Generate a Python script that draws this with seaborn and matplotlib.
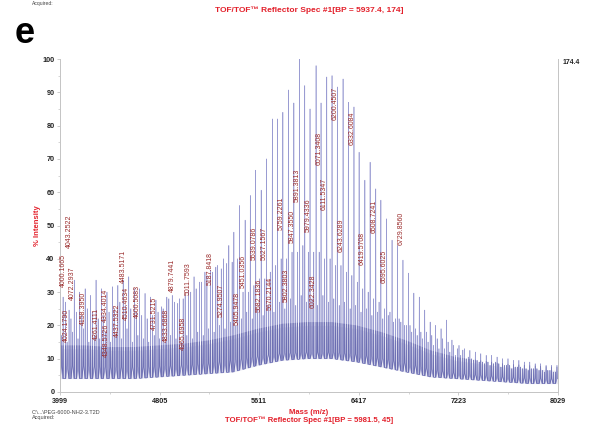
import numpy as np
import pandas as pd
import matplotlib
matplotlib.use("Agg")
import matplotlib.pyplot as plt
import seaborn as sns

# ---------------------------------------------------------------- data
# main PEG series (m/z, % intensity)
a_mass = [4000.17, 4043.25, 4087.7, 4131.7, 4175.8, 4219.8, 4261.41, 4307.9, 4348.57, 4396.0,
          4437.53, 4483.52, 4528.2, 4572.2, 4616.3, 4660.3, 4704.4, 4748.4, 4792.5, 4833.69,
          4879.74, 4924.6, 4965.70, 5011.76, 5056.8, 5100.8, 5144.9, 5187.84, 5233.0, 5274.95,
          5321.1, 5365.1, 5405.95, 5451.04, 5497.3, 5539.08, 5582.18, 5627.16, 5670.21, 5717.5,
          5759.23, 5802.38, 5847.36, 5891.38, 5937.4, 5979.43, 6022.34, 6071.34, 6111.53, 6157.6,
          6200.45, 6243.63, 6289.8, 6332.61, 6377.9, 6419.57, 6466.0, 6508.72, 6554.1, 6595.60,
          6642.2, 6686.2, 6729.86, 6774.3, 6818.4, 6862.4, 6906.5, 6950.5, 6994.6, 7038.6,
          7082.7, 7126.7, 7170.8, 7214.8, 7258.9, 7302.9, 7347.0, 7391.0, 7435.1, 7479.1,
          7523.2, 7567.2, 7611.3, 7655.3, 7699.4, 7743.4, 7787.5, 7831.5, 7875.6, 7919.6,
          7963.7, 8007.7]
a_int = [30, 27, 22, 24, 23, 25, 24, 22, 23, 24,
         25, 27, 26, 25, 24, 23, 22, 23, 24, 25,
         28, 27, 28, 29, 30, 31, 33, 35, 36, 38,
         40, 44, 48, 56, 51.6, 59, 66.6, 60.6, 70, 82,
         82, 84, 90.7, 86.8, 100, 92, 85, 98, 86.8, 94.6,
         95, 91.6, 94, 87, 85.6, 72, 63.6, 69, 61, 57.6,
         52, 45.6, 44, 39.6, 35.7, 29.7, 28.5, 24.6, 21, 20,
         19, 21.6, 15.6, 13, 12.6, 10.5, 9.6, 9, 8.5, 8,
         9, 7.5, 8, 7, 7.5, 7, 6.5, 7, 6.5, 6,
         6.5, 6]

# second end-group series
b_mass = [4024.18, 4072.29, 4114.7, 4158.40, 4202.8, 4246.8, 4290.9, 4334.40, 4379.0, 4423.0,
          4467.1, 4510.46, 4555.2, 4600.51, 4643.3, 4687.3, 4731.52, 4775.4, 4819.5, 4863.5,
          4907.6, 4951.6, 4995.7, 5039.7, 5083.8, 5127.8, 5171.9, 5215.9, 5260.0, 5304.0,
          5348.1, 5392.1, 5436.2, 5480.2, 5524.3, 5568.3, 5612.4, 5656.4, 5700.5, 5744.5,
          5788.6, 5832.6, 5876.7, 5920.7, 5964.4, 6008.4, 6052.5, 6096.5, 6140.6, 6184.6,
          6228.7, 6272.7, 6316.8, 6360.8, 6404.9, 6448.9, 6493.0, 6537.0, 6581.1, 6625.1,
          6669.2, 6713.2, 6757.3, 6801.3, 6845.4, 6889.4, 6933.5, 6977.5, 7021.6, 7065.6,
          7109.7, 7153.7, 7197.8, 7241.8, 7285.9, 7329.9, 7374.0, 7418.0, 7462.1, 7506.1,
          7550.2, 7594.2, 7638.3, 7682.3, 7726.4, 7770.4, 7814.5, 7858.5, 7902.6, 7946.6,
          7990.7]
b_int = [28.5, 24.6, 33.6, 30, 31, 29, 33.6, 31, 30, 31.6,
         32, 33.6, 34.6, 31, 31, 29.6, 28.5, 27.6, 25.6, 28.5,
         29, 26.6, 28, 30.6, 34.6, 33, 36, 36.6, 37.5, 37,
         38.6, 39, 40, 30, 30, 32, 34, 34, 36, 38,
         40, 40, 42, 42, 44, 42, 42, 42, 40, 40,
         38, 38, 36, 35, 33, 31, 30, 28, 27, 25,
         24, 22, 21, 20, 18, 17, 16, 15, 14, 13,
         13, 12, 11, 11, 10, 10, 9.5, 9, 9, 8.5,
         8.5, 8, 8, 7.5, 7.5, 7, 7, 7, 6.5, 6.5,
         6]

# minor satellite peaks
c_mass = [4013.2, 4056.3, 4100.7, 4144.7, 4188.8, 4232.8, 4276.9, 4320.9, 4365.0, 4409.0,
          4453.1, 4497.1, 4541.2, 4585.2, 4629.3, 4673.3, 4717.4, 4761.4, 4805.5, 4849.5,
          4893.6, 4937.6, 4981.7, 5025.7, 5069.8, 5113.8, 5157.9, 5201.9, 5246.0, 5290.0,
          5334.1, 5378.1, 5422.2, 5466.2, 5510.3, 5554.3, 5598.4, 5642.4, 5686.5, 5730.5,
          5774.6, 5818.6, 5862.7, 5906.7, 5950.4, 5994.4, 6038.5, 6082.5, 6126.6, 6170.6,
          6214.7, 6258.7, 6302.8, 6346.8, 6390.9, 6434.9, 6479.0, 6523.0, 6567.1, 6611.1,
          6655.2, 6699.2, 6743.3, 6787.3, 6831.4, 6875.4, 6919.5, 6963.5, 7007.6, 7051.6,
          7095.7, 7139.7, 7183.8, 7227.8, 7271.9, 7315.9, 7360.0, 7404.0, 7448.1, 7492.1,
          7536.2, 7580.2, 7624.3, 7668.3, 7712.4, 7756.4, 7800.5, 7844.5, 7888.6, 7932.6,
          7976.7, 8020.7]
c_int = [17, 15, 18, 16, 19, 15, 17, 16, 18, 15,
         17, 16, 19, 15, 17, 16, 15, 17, 16, 15,
         17, 16, 15, 17, 16, 18, 17, 19, 18, 20,
         19, 21, 20, 22, 24, 22, 25, 23, 26, 24,
         27, 25, 28, 26, 29, 27, 28, 26, 29, 27,
         28, 26, 27, 25, 26, 24, 25, 23, 24, 22,
         23, 21, 22, 20, 20, 19, 18, 18, 17, 16,
         16, 15, 14, 14, 13, 12.5, 12, 11.5, 11, 11,
         10.5, 10, 10, 9.5, 9.5, 9, 9, 8.5, 8.5, 8,
         8, 8]

# chemical-noise floor (lower / upper edge of the dense band)
band_mass = [3999, 4200, 4400, 4600, 4800, 5000, 5200, 5400, 5600, 5800,
             6000, 6200, 6400, 6600, 6800, 7000, 7200, 7400, 7600, 7800, 8029]
band_low = [4, 4, 4, 4, 4.5, 5, 5.5, 6, 8, 9.5,
            10, 10, 9, 7.5, 6, 4.5, 4, 3.5, 3, 2.5, 2.5]
band_high = [13, 13, 12.5, 12.5, 13, 13.5, 14.5, 16, 18, 19.5,
             20, 20, 19, 17, 14.5, 11.5, 9.5, 8.5, 7.5, 7, 6.5]

# annotated peaks and the height where each mass label starts
label_mass = [4000.17, 4024.18, 4043.25, 4072.29, 4158.40, 4261.41, 4348.57, 4334.40,
              4437.53, 4483.52, 4510.46, 4600.51, 4731.52, 4833.69, 4879.74, 4965.70,
              5011.76, 5187.84, 5274.95, 5405.95, 5451.04, 5539.08, 5582.18, 5627.16,
              5670.21, 5759.23, 5802.38, 5847.36, 5891.38, 5979.43, 6022.34, 6071.34,
              6111.53, 6200.45, 6243.63, 6332.61, 6419.57, 6508.72, 6595.60, 6729.86]
label_text = ["4000.1665", "4024.1790", "4043.2522", "4072.2937", "4158.3950", "4261.4111",
              "4348.5726", "4334.4014", "4437.5322", "4483.5171", "4510.4634", "4600.5083",
              "4731.5215", "4833.6868", "4879.7441", "4965.6958", "5011.7593", "5187.8418",
              "5274.9507", "5405.9478", "5451.0356", "5539.0786", "5582.1836", "5627.1567",
              "5670.2144", "5759.2261", "5802.3803", "5847.3550", "5891.3813", "5979.4336",
              "6022.3428", "6071.3408", "6111.5347", "6200.4507", "6243.6289", "6332.6084",
              "6419.5708", "6508.7241", "6595.6025", "6729.8560"]
label_level = [31.6, 15.1, 43.3, 27.7, 20.2, 15.7, 10.6, 21.1,
               16.6, 32.8, 21.7, 22.3, 18.7, 15.1, 30.1, 12.7,
               29.2, 32.2, 22.6, 20.2, 31.3, 39.7, 24.1, 39.7,
               24.7, 48.7, 27.1, 44.8, 57.1, 48.1, 25.3, 68.2,
               54.7, 81.7, 42.1, 74.2, 38.2, 47.8, 32.8, 44.2]

x_ticks = [3999, 4805, 5611, 6417, 7223, 8029]
full_scale = "174.4"

# ---------------------------------------------------------------- style
sns.set_theme(style="white")
plt.rcParams["font.family"] = ["Liberation Sans", "DejaVu Sans"]

RED = "#e3202b"
LABEL_RED = "#9a2b2b"
TRACE_LIGHT = "#9a9cd2"
TRACE_DARK = "#5b5da6"
AXIS_GREY = "#c4c4c4"

W, H = 589, 424
fig = plt.figure(figsize=(W / 100, H / 100), dpi=100)
ax = fig.add_axes([60 / W, 32 / H, 498 / W, 333 / H])

# ---------------------------------------------------------------- spectrum
series = [(a_mass, a_int, band_low), (b_mass, b_int, band_low), (c_mass, c_int, band_high)]
frames = []
for mass, inten, floor in series:
    df = pd.DataFrame({"mass": mass, "top": inten})
    df["foot"] = np.interp(df["mass"], band_mass, floor)
    frames.append(df)
peaks = pd.concat(frames).sort_values("mass").reset_index(drop=True)
# satellite peaks rise from inside the noise band
peaks.loc[peaks["mass"].isin(c_mass), "foot"] *= 0.6

# stick trace: baseline -> apex -> baseline for every peak
trace = pd.DataFrame({
    "mass": np.column_stack([peaks["mass"] - 2.5, peaks["mass"], peaks["mass"] + 2.5]).ravel(),
    "intensity": np.column_stack([peaks["foot"], peaks["top"], peaks["foot"]]).ravel(),
})

ax.fill_between(band_mass, band_low, band_high, color="#6264ad", alpha=0.13, lw=0)
sns.lineplot(data=trace, x="mass", y="intensity", sort=False, estimator=None,
             color=TRACE_LIGHT, lw=0.45, ax=ax)
# the part of the trace inside the noise band reads darker
sns.lineplot(data=trace, x="mass", y="intensity", sort=False, estimator=None,
             color=TRACE_DARK, lw=0.4, alpha=0.75, ax=ax)
dark = ax.get_lines()[-1]
clip = ax.fill_between(band_mass, np.array(band_low) - 1, np.array(band_high) + 1,
                       color="none", lw=0)
dark.set_clip_path(clip.get_paths()[0], ax.transData)

# ---------------------------------------------------------------- peak labels
for m, txt, lvl in zip(label_mass, label_text, label_level):
    ax.text(m, lvl, txt, rotation=90, ha="left", va="bottom", fontsize=5.0,
            color=LABEL_RED)

# ---------------------------------------------------------------- axes
ax.set_xlim(x_ticks[0], x_ticks[-1])
ax.set_ylim(0, 100)
ax.set_xticks(x_ticks)
ax.set_xticks([(a + b) / 2 for a, b in zip(x_ticks[:-1], x_ticks[1:])], minor=True)
ax.set_yticks(range(0, 101, 10))
ax.set_yticks(range(5, 100, 10), minor=True)
ax.tick_params(axis="both", which="major", direction="out", length=2.5, width=0.6,
               color=AXIS_GREY, labelsize=5.2, pad=1.5, bottom=True, left=True)
ax.tick_params(axis="both", which="minor", direction="out", length=1.5, width=0.5,
               color=AXIS_GREY, bottom=True, left=True)
for lab in ax.get_xticklabels() + ax.get_yticklabels():
    lab.set_fontweight("bold")
    lab.set_color("#222222")
ax.set_xlabel("Mass (m/z)", color=RED, fontsize=5.5, fontweight="bold", labelpad=3)
ax.set_ylabel("% Intensity", color=RED, fontsize=5.5, fontweight="bold")
ax.yaxis.set_label_coords(-0.039, 0.5)
for side in ("left", "bottom", "right"):
    ax.spines[side].set_visible(True)
    ax.spines[side].set_color(AXIS_GREY)
    ax.spines[side].set_linewidth(0.7)
ax.spines["top"].set_visible(False)
ax.grid(False)

ax.text(1.01, 1.0, full_scale, transform=ax.transAxes, ha="left", va="top",
        fontsize=5, fontweight="bold", color="#222222")

# ---------------------------------------------------------------- page text
fig.text(0.5 * (60 + 558) / W, 1 - 10 / H, "TOF/TOF\u2122 Reflector Spec #1[BP = 5937.4, 174]",
         ha="center", va="center", color=RED, fontsize=6, fontweight="bold")
fig.text(15 / W, 1 - 43 / H, "e", ha="left", va="baseline", fontsize=26,
         fontweight="bold", color="black")
fig.text(32 / W, 1 - 0.5 / H, "Acquired:", ha="left", va="top", fontsize=3.6, color="#444444")
fig.text(32 / W, 1 - 412 / H, "C:\\...\\PEG-6000-NH2-3.T2D", ha="left", va="center",
         fontsize=4, color="#444444")
fig.text(32 / W, 1 - 417.5 / H, "Acquired:", ha="left", va="center", fontsize=4,
         color="#444444")
fig.text(0.5 * (60 + 558) / W, 0.5 / H, "TOF/TOF\u2122 Reflector Spec #1[BP = 5981.5, 45]",
         ha="center", va="bottom", color=RED, fontsize=5.6, fontweight="bold")

fig.savefig("out.png", dpi=100)
